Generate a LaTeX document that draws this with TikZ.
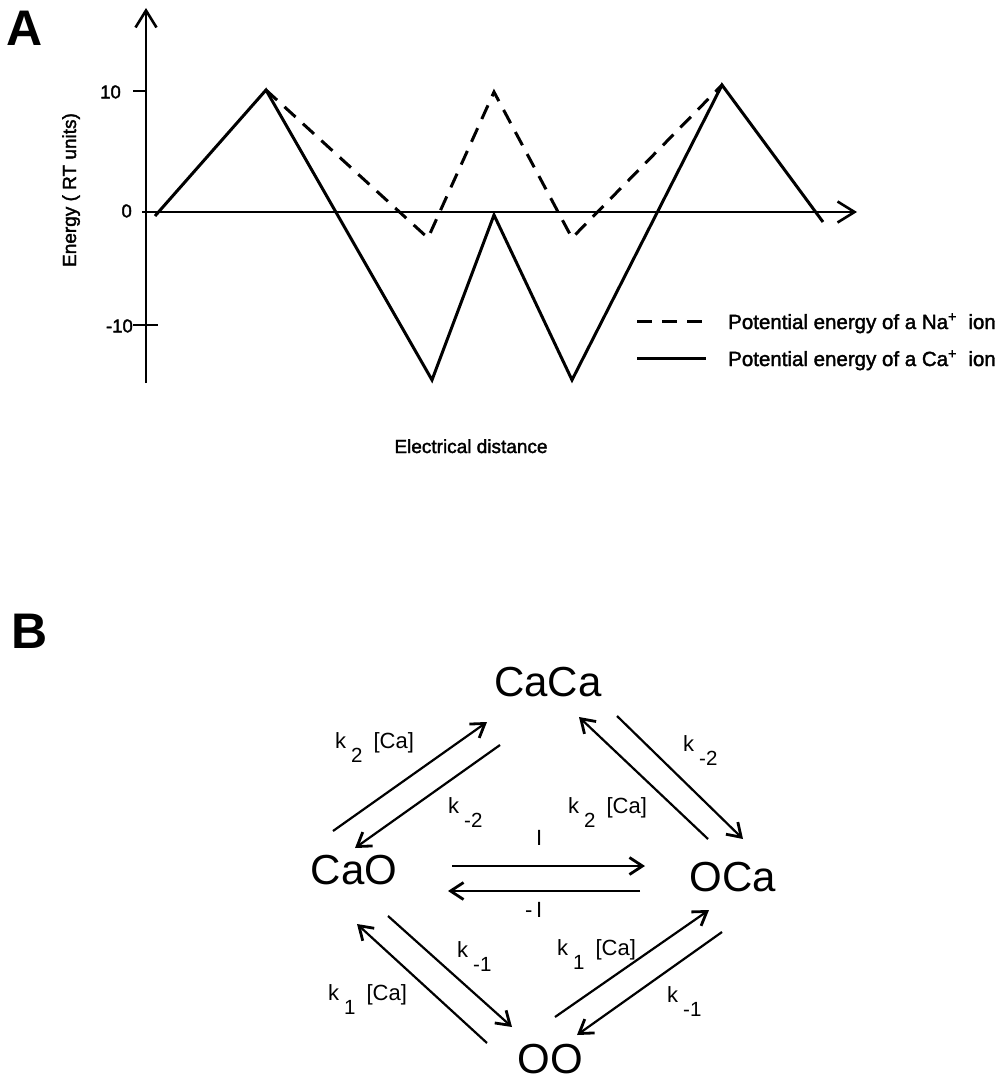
\documentclass[tikz,border=0pt]{standalone}
\usepackage{fontspec}
\setmainfont{Liberation Sans}
\newfontfamily\scanfont{Liberation Sans}[FakeBold=1.8]
\usetikzlibrary{arrows.meta}

% rate constant with a lowered index
\newcommand{\rk}[1]{k\kern5pt\raisebox{-14pt}{\fontsize{20.5}{20.5}\selectfont #1}}
\newcommand{\rkca}[1]{\rk{#1}\hspace{11pt}[Ca]}

\begin{document}
\begin{tikzpicture}[x=1pt, y=-1pt,
    every node/.style={inner sep=0pt},
    panel/.style={font=\fontsize{50}{50}\selectfont\bfseries},
    ticklbl/.style={font=\scanfont\fontsize{18.5}{18.5}\selectfont, anchor=east},
    axlbl/.style={font=\scanfont\fontsize{19}{19}\selectfont},
    legtxt/.style={font=\scanfont\fontsize{20.5}{20.5}\selectfont, anchor=base west},
    axisline/.style={line width=1.4pt, -{Straight Barb[length=17pt,width=21pt,line width=2.6pt]}},
    energy/.style={line width=3pt, line join=miter},
    nadash/.style={energy, dash pattern=on 15pt off 10pt},
    state/.style={font=\fontsize{42}{42}\selectfont},
    rate/.style={font=\fontsize{22}{22}\selectfont, anchor=base west},
    reac/.style={line width=2.2pt, -{Straight Barb[length=13pt,width=17pt,line width=2.8pt]}}
]
\useasboundingbox (0,0) rectangle (1005,1081);

% ---------- Panel A ----------
\node[panel] (pa) at (25,28) {A};

% Achsen
\coordinate (y0) at (146,383);
\coordinate (y1) at (146,8);
\coordinate (x0) at (142,212);
\coordinate (x1) at (857,212);
\draw[axisline] (y0) -- (y1);
\draw[axisline] (x0) -- (x1);
\draw[line width=1.4pt] (133,91) -- (146,91);
\draw[line width=1.4pt] (133,325) -- (158,325);

\node[ticklbl] (t10)  at (121,92)  {10};
\node[ticklbl] (t0)   at (132,211) {0};
\node[ticklbl] (tm10) at (133,326) {-10};

\node[axlbl, rotate=90, anchor=base] (ylab) at (76,190) {Energy ( RT units)};
\node[axlbl, anchor=base] (xlab) at (471,453) {Electrical distance};

% Energieprofile
\draw[energy] (155,216) -- (266,90) -- (432,380) -- (494,215) -- (572,380) -- (722,85) -- (823,222);
\draw[nadash] (266,90) -- (428,238) -- (494,92) -- (572,238) -- (722,85);

% Legende
\draw[nadash] (637,321) -- (703,321);
\draw[energy] (637,358) -- (706,358);
\node[legtxt] (lna) at (728,329) {Potential energy of a Na\textsuperscript{+}\ \ ion};
\node[legtxt] (lca) at (728,366) {Potential energy of a Ca\textsuperscript{+}\ \ ion};

% ---------- Panel B ----------
\node[panel] (pb) at (30,631) {B};

\node[state] (CaCa) at (548,682)  {CaCa};
\node[state] (CaO)  at (354,870)  {CaO};
\node[state] (OCa)  at (733,877)  {OCa};
\node[state] (OO)   at (550,1059) {OO};

% Reaktionspfeile
\foreach \a/\sa/\b/\sb in {
    CaO/{-21,-39}/CaCa/{-61,40},
    CaCa/{-48,63}/CaO/{1,-22},
    OCa/{-25,-38}/CaCa/{31,35},
    CaCa/{69,34}/OCa/{10,-38},
    CaO/{98,-4}/OCa/{-88,-11},
    OCa/{-93,14}/CaO/{94,21},
    CaO/{34,46}/OO/{-38,-32},
    OO/{-63,-16}/CaO/{3,54},
    OO/{5,-42}/OCa/{-24,33},
    OCa/{-11,55}/OO/{27,-24}} {
    \draw[reac] ([shift={(\sa)}]\a.center) -- ([shift={(\sb)}]\b.center);
}

% Geschwindigkeitskonstanten
\node[rate] (k2a)  at (335,748)  {\rkca{2}};
\node[rate] (km2a) at (448,813)  {\rk{-2}};
\node[rate] (kI)   at (536,845)  {I};
\node[rate] (k2b)  at (568,813)  {\rkca{2}};
\node[rate] (km2b) at (683,751)  {\rk{-2}};
\node[rate] (kmI)  at (525,917)  {-\,I};
\node[rate] (km1a) at (457,957)  {\rk{-1}};
\node[rate] (k1a)  at (557,955)  {\rkca{1}};
\node[rate] (k1b)  at (328,1000) {\rkca{1}};
\node[rate] (km1b) at (667,1002) {\rk{-1}};

\end{tikzpicture}
\end{document}
